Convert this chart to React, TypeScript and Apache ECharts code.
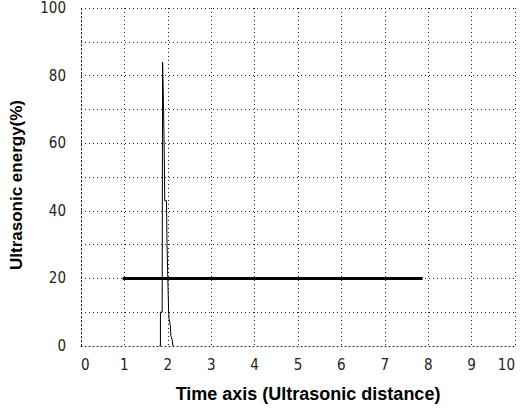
import React, { useEffect, useRef } from "react";
import * as echarts from "echarts";

const xTicks = [0, 1, 2, 3, 4, 5, 6, 7, 8, 9, 10];
const yTicks = [0, 20, 40, 60, 80, 100];
const thresholdLine: [number, number][] = [
  [0.96, 20],
  [7.87, 20],
];
const echoSignal: [number, number][] = [
  [1.8, 0],
  [1.83, 0],
  [1.83, 10],
  [1.87, 10],
  [1.88, 84],
  [1.9, 72],
  [1.92, 55],
  [1.93, 43],
  [1.97, 43],
  [1.98, 32],
  [2.0, 20],
  [2.02, 10],
  [2.03, 8],
  [2.06, 6],
  [2.07, 3],
  [2.1, 2],
  [2.12, 0],
];

export default function App() {
  const ref = useRef<HTMLDivElement>(null);
  useEffect(() => {
    if (!ref.current) return;
    const chart = echarts.init(ref.current, undefined, { renderer: "svg" });
    const dotted = { color: "#222", width: 1, type: [1, 3] as number[] };
    const tickFont = "'Liberation Sans Narrow', 'DejaVu Sans Condensed', sans-serif";
    chart.setOption({
      animation: false,
      backgroundColor: "#fff",
      grid: { left: 78, right: 6, top: 8, bottom: 60, show: false },
      xAxis: {
        type: "value",
        min: 0,
        max: 10,
        interval: 1,
        name: "Time axis (Ultrasonic distance)",
        nameLocation: "middle",
        nameGap: 39,
        nameTextStyle: {
          fontFamily: "Liberation Sans",
          fontWeight: "bold",
          fontSize: 18,
          color: "#000",
          padding: [0, 0, 0, 20],
        },
        axisLine: { show: true, lineStyle: dotted },
        axisTick: { show: false },
        axisLabel: {
          margin: 11,
          fontFamily: tickFont,
          fontSize: 15,
          color: "#222",
          alignMaxLabel: "right",
          alignMinLabel: "left",
          formatter: (v: number) => (xTicks.includes(v) ? String(v) : ""),
        },
        splitLine: { show: true, lineStyle: dotted },
      },
      yAxis: {
        type: "value",
        min: 0,
        max: 100,
        interval: 10,
        name: "Ultrasonic energy(%)",
        nameLocation: "middle",
        nameGap: 56,
        nameRotate: 90,
        nameTextStyle: {
          fontFamily: "Liberation Sans",
          fontWeight: "bold",
          fontSize: 17,
          color: "#000",
          padding: [0, 16, 0, 0],
        },
        axisLine: { show: true, lineStyle: dotted },
        axisTick: { show: false },
        axisLabel: {
          margin: 15,
          fontFamily: tickFont,
          fontSize: 15,
          color: "#222",
          formatter: (v: number) => (yTicks.includes(v) ? String(v) : ""),
        },
        splitLine: { show: true, lineStyle: dotted },
      },
      series: [
        {
          type: "line",
          data: echoSignal,
          symbol: "none",
          lineStyle: { color: "#000", width: 1 },
          z: 3,
        },
        {
          type: "line",
          data: thresholdLine,
          symbol: "none",
          lineStyle: { color: "#000", width: 3 },
          z: 4,
        },
      ],
    });
    return () => chart.dispose();
  }, []);
  return (
    <div
      ref={ref}
      style={{ position: "fixed", left: 0, top: 0, width: 521, height: 408 }}
    />
  );
}
